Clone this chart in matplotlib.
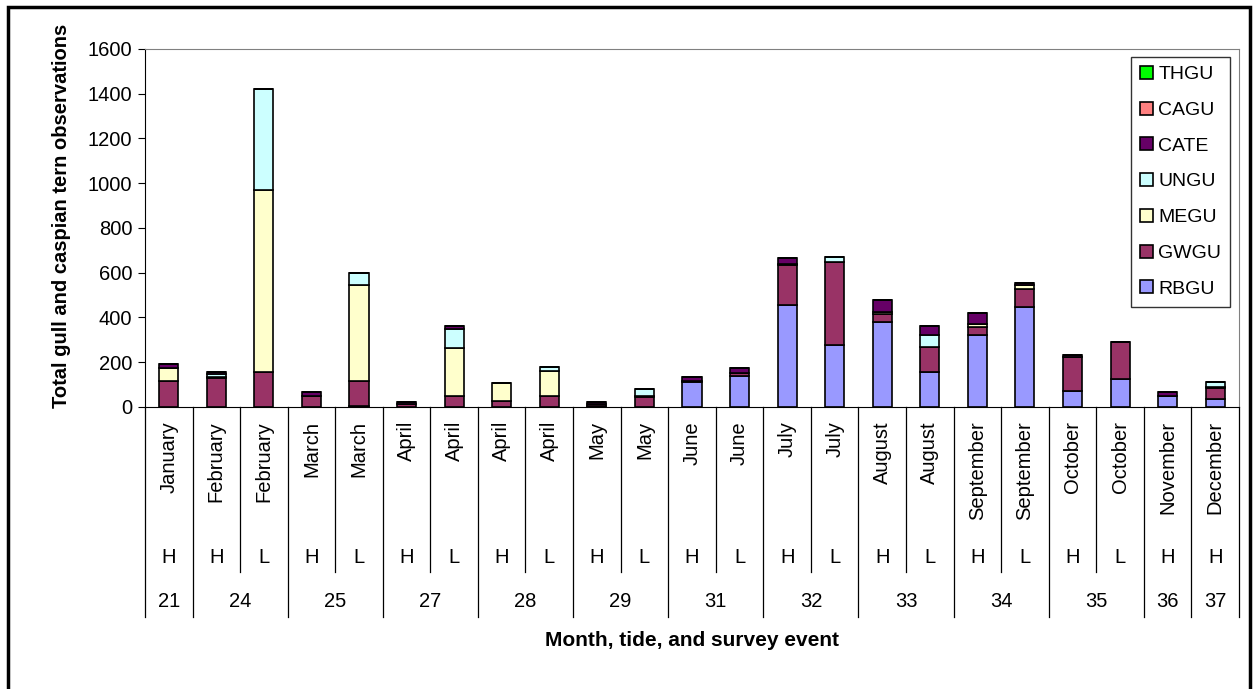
import numpy as np
import matplotlib
matplotlib.use('Agg')
import matplotlib.pyplot as plt
from matplotlib.patches import Rectangle

plt.rcParams['font.family'] = ['Liberation Sans', 'DejaVu Sans']

months = ['January', 'February', 'February', 'March', 'March', 'April', 'April',
          'April', 'April', 'May', 'May', 'June', 'June', 'July', 'July',
          'August', 'August', 'September', 'September', 'October', 'October',
          'November', 'December']
tides = ['H', 'H', 'L', 'H', 'L', 'H', 'L', 'H', 'L', 'H', 'L', 'H', 'L',
         'H', 'L', 'H', 'L', 'H', 'L', 'H', 'L', 'H', 'H']
events = [21, 24, 24, 25, 25, 27, 27, 28, 28, 29, 29, 31, 31, 32, 32,
          33, 33, 34, 34, 35, 35, 36, 37]

# counts per species, bottom to top
rbgu = [0, 0, 0, 0, 5, 0, 0, 0, 0, 4, 0, 110, 140, 455, 275, 380, 155, 320, 448, 73, 125, 50, 36]
gwgu = [118, 128, 158, 50, 113, 15, 50, 28, 50, 8, 45, 5, 10, 180, 372, 35, 112, 37, 80, 150, 167, 0, 50]
megu = [58, 8, 812, 0, 427, 0, 215, 77, 112, 0, 5, 0, 3, 5, 0, 8, 3, 12, 18, 0, 0, 0, 3]
ungu = [0, 12, 450, 0, 53, 0, 85, 0, 15, 0, 32, 0, 0, 0, 25, 0, 50, 0, 0, 0, 0, 0, 22]
cate = [18, 8, 0, 18, 0, 7, 10, 0, 0, 10, 0, 20, 20, 25, 0, 55, 40, 50, 8, 9, 0, 18, 0]
cagu = [0] * 23
thgu = [0] * 23

species = ['RBGU', 'GWGU', 'MEGU', 'UNGU', 'CATE', 'CAGU', 'THGU']
series = [rbgu, gwgu, megu, ungu, cate, cagu, thgu]
colors = ['#9999FF', '#993366', '#FFFFCC', '#CCFFFF', '#660066', '#FF8080', '#00FF00']

fs = 14.5

fig = plt.figure(figsize=(12.56, 6.89), dpi=100)
ax = fig.add_axes([0.1154, 0.4093, 0.8711, 0.5196])

x = np.arange(len(months))
bottom = np.zeros(len(months))
handles = []
for name, vals, col in zip(species, series, colors):
    vals = np.array(vals, dtype=float)
    b = ax.bar(x, vals, 0.4, bottom=bottom, color=col, edgecolor='black',
               linewidth=1.2, label=name)
    handles.append(b)
    bottom += vals

ax.set_xlim(-0.5, len(months) - 0.5)
ax.set_ylim(0, 1600)
ax.set_yticks(np.arange(0, 1601, 200))
ax.tick_params(axis='y', labelsize=fs, length=5, direction='out', pad=4)
ax.set_xticks([])
ax.spines['top'].set_color('#808080')
ax.spines['right'].set_color('#808080')

# multi-level category axis
tr = ax.get_xaxis_transform()
def frac(px):
    return -(px - 407) / 358.0

for i in range(len(months)):
    ax.text(i, frac(421), months[i], rotation=90, ha='center', va='top',
            fontsize=fs, transform=tr, clip_on=False)
    ax.text(i, frac(558), tides[i], ha='center', va='center',
            fontsize=fs, transform=tr, clip_on=False)

# separators
for i in range(len(months) + 1):
    xb = i - 0.5
    if i == 0 or i == len(months) or events[i] != events[i - 1]:
        y_end = frac(617)
    else:
        y_end = frac(572)
    ax.plot([xb, xb], [0, y_end], color='black', lw=0.9, transform=tr, clip_on=False)

# event numbers centred over their group
start = 0
for i in range(1, len(events) + 1):
    if i == len(events) or events[i] != events[start]:
        ax.text((start + i - 1) / 2.0, frac(602), str(events[start]), ha='center',
                va='center', fontsize=fs, transform=tr, clip_on=False)
        start = i

fig.text(0.551, 1 - 640 / 689.0, 'Month, tide, and survey event', ha='center',
         va='center', fontsize=15, fontweight='bold')
fig.text(0.049, 1 - 216 / 689.0, 'Total gull and caspian tern observations', rotation=90,
         ha='center', va='center', fontsize=14.5, fontweight='bold')

leg = fig.legend(handles[::-1], species[::-1], loc='upper right',
                 bbox_to_anchor=(1230 / 1256.0, 1 - 57 / 689.0), fontsize=14,
                 frameon=True, fancybox=False, edgecolor='black',
                 handlelength=0.65, handleheight=0.65, handletextpad=0.3,
                 labelspacing=0.95, borderpad=0.45, borderaxespad=0)
leg.get_frame().set_linewidth(1.0)

fig.add_artist(Rectangle((8 / 1256.0, -0.05), 1242 / 1256.0, 0.05 + 1 - 7 / 689.0,
                         transform=fig.transFigure, fill=False, edgecolor='black',
                         lw=2.5))

fig.savefig('out.png', dpi=100)
